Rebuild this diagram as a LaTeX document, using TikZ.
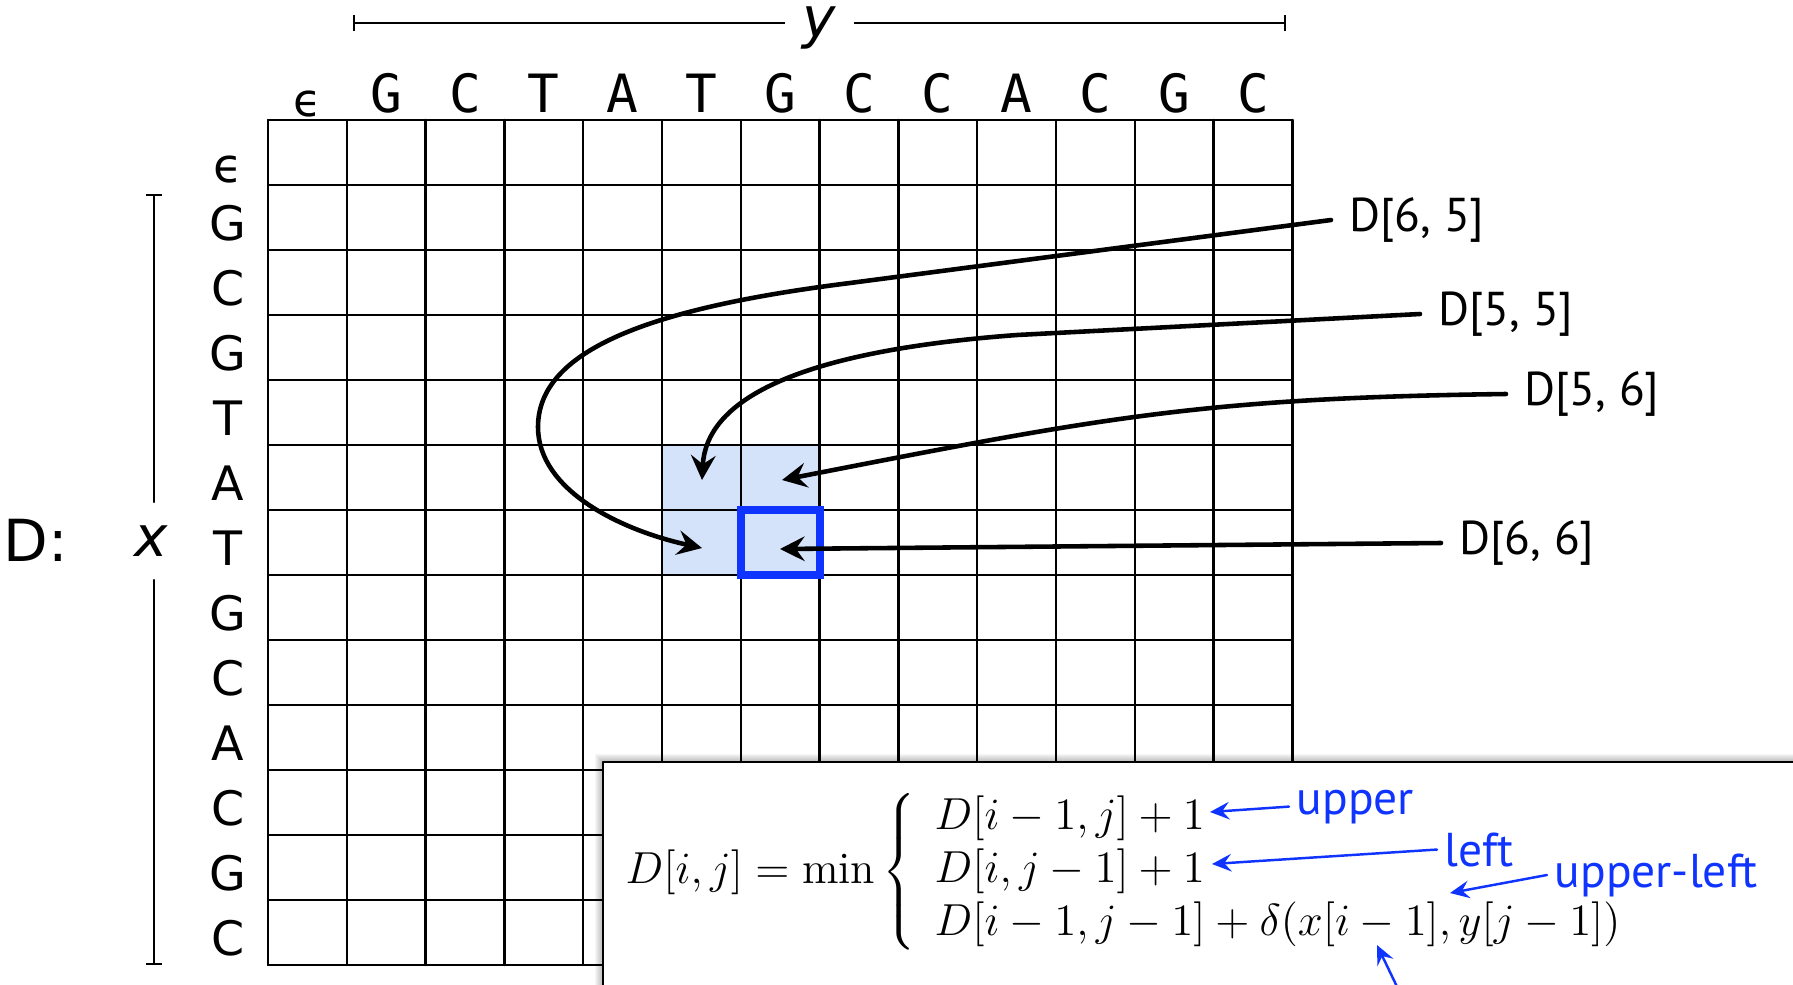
\documentclass[tikz,border=0pt]{standalone}
\usepackage{graphicx}
\usepackage{fontspec}
\usetikzlibrary{arrows.meta}
\newfontfamily\seqfont{DejaVu Sans Mono}
\newfontfamily\rowfont{DejaVu Sans}
\newfontfamily\lblfont{PT Sans}
\definecolor{hlblue}{RGB}{212,227,250}
\definecolor{markblue}{RGB}{16,52,255}
\tikzset{
  colletter/.style={anchor=base,inner sep=0pt,font=\seqfont\fontsize{15}{18}\selectfont},
  rowletter/.style={anchor=base,inner sep=0pt,font=\rowfont\fontsize{13.5}{16}\selectfont},
  gridline/.style={line width=0.7pt},
  bracket/.style={line width=0.6pt},
  cellref/.style={anchor=west,inner sep=5pt,font=\lblfont\fontsize{13.5}{16}\selectfont},
  back/.style={line width=1.3pt,-{Stealth[length=7pt,width=7pt,inset=2.5pt]}},
  note/.style={anchor=base west,inner sep=2pt,text=markblue,font=\lblfont\fontsize{13.5}{16}\selectfont},
  notearrow/.style={draw=markblue,line width=0.7pt,-{Stealth[length=5.5pt,width=5pt,inset=2pt]},markblue}
}

\begin{document}
\begin{tikzpicture}[x=0.01cm,y=-0.01cm,line cap=round,line join=round]
  \useasboundingbox (0,0) rectangle (1793,984);

  % highlighted cells and grid
  \fill[hlblue] (662,445) rectangle (819.6,575);
  \foreach \i in {0,...,13}
    \draw[gridline] ({268+\i*78.8},120) -- ({268+\i*78.8},965);
  \foreach \j in {0,...,13}
    \draw[gridline] (268,{120+\j*65}) -- (1292.4,{120+\j*65});
  \draw[markblue,line width=2.3pt,line cap=butt,line join=miter] (740.8,510) rectangle (819.6,575);

  % sequences
  \node[anchor=base,inner sep=0pt,font=\rowfont\fontsize{13}{15}\selectfont] (c0) at (307.4,116) {ϵ};
  \foreach \ch [count=\i] in {G,C,T,A,T,G,C,C,A,C,G,C}
    \node[colletter] (c\i) at ({268+(\i+0.5)*78.8},112) {\ch};
  \node[rowletter] (r0) at (228,182) {ϵ};
  \foreach \ch [count=\i] in {G,C,G,T,A,T,G,C,A,C,G,C}
    \node[rowletter] (r\i) at (228,{120+(\i+1)*65-10}) {\ch};

  \coordinate (ya) at (353,23);
  \coordinate (yb) at (1286,23);
  \draw[bracket,{Bar[width=4.5pt]}-{Bar[width=4.5pt]}] (ya) -- node[fill=white,yshift=-1.5pt,inner xsep=5pt,inner ysep=1pt,font=\rowfont\itshape\fontsize{16}{18}\selectfont] (ylab) {y} (yb);
  \node[inner xsep=0pt,inner ysep=6.5pt,font=\rowfont\itshape\fontsize{16}{18}\selectfont] (xlab) at (151,541) {x};
  \coordinate (xa) at (154,194);
  \coordinate (xb) at (154,965);
  \draw[bracket,{Bar[width=4.5pt]}-] (xa) -- (xa |- xlab.north);
  \draw[bracket,-{Bar[width=4.5pt]}] (xb |- xlab.south) -- (xb);
  \node[font=\rowfont\fontsize{16.5}{18}\selectfont] (dlab) at (36,540) {D:};

  % neighbours of D[6,6]
  \coordinate (t55) at (702,480);
  \coordinate (t56) at (782,480);
  \coordinate (t65) at (702,548);
  \coordinate (t66) at (780,549);
  \node[cellref] (l65) at (1331,220) {D[6, 5]};
  \node[cellref] (l55) at (1420,314) {D[5, 5]};
  \node[cellref] (l56) at (1506,394) {D[5, 6]};
  \node[cellref] (l66) at (1441,543) {D[6, 6]};
  \draw[back] (l65.west) -- (850,283) .. controls (650,308) and (538,350) .. (538,427)
    .. controls (538,490) and (620,530) .. (t65);
  \draw[back] (l55.west) -- (1017,335) .. controls (788,352) and (706,403) .. (t55);
  \draw[back] (l56.west) .. controls (1200,398) and (1100,418) .. (t56);
  \draw[back] (l66.west) -- (t66);

  % recurrence
  \foreach \s in {1,...,8}
    \fill[black,opacity=0.035] ({603-\s},{762-\s}) rectangle (1800,990);
  \draw[fill=white,line width=0.8pt] (603,762) rectangle (1800,990);
  \node[anchor=west,inner sep=0pt,font=\fontsize{12}{14.2}\selectfont] (rec) at (625,872)
    {\scalebox{1.0625}{$D[i,j] = \min\left\{\begin{array}{l}
      D[i-1,j]+1\\
      D[i,j-1]+1\\
      D[i-1,j-1]+\delta(x[i-1],y[j-1])
    \end{array}\right.$}};
  \node[note] (nup) at (1289,814) {upper};
  \node[note] (nleft) at (1437,866) {left};
  \node[note] (nul) at (1547,887) {upper-left};
  \coordinate (tup) at (1210,812);
  \coordinate (tleft) at (1212,864);
  \coordinate (tul) at (1450,893);
  \coordinate (tdel) at (1377,945);
  \coordinate (bdel) at (1401,995);
  \draw[notearrow] (nup.west) -- (tup);
  \draw[notearrow] (nleft.west) -- (tleft);
  \draw[notearrow] (nul.west) -- (tul);
  \draw[notearrow] (bdel) -- (tdel);
\end{tikzpicture}
\end{document}
